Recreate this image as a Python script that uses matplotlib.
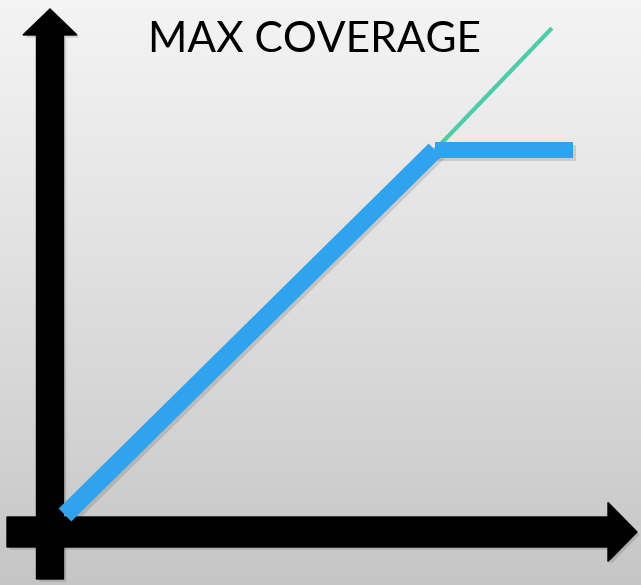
import numpy as np
import matplotlib.pyplot as plt
from matplotlib.patches import FancyArrow
import matplotlib.patheffects as pe

# demand vs. served coverage (normalised to the capacity knee)
demand = [0.0, 1.0, 1.373]
coverage = [0.0, 1.0, 1.0]
# unconstrained growth beyond the knee
ideal_x = [1.0, 1.316]
ideal_y = [1.0, 1.334]

title = "MAX COVERAGE"

W, H = 641, 585
fig = plt.figure(figsize=(W / 100, H / 100), dpi=100)

# soft grey background
bg = fig.add_axes([0, 0, 1, 1])
grad = np.linspace(0, 1, 256).reshape(-1, 1)
top = np.array([0.955, 0.955, 0.955])
bot = np.array([0.775, 0.775, 0.775])
img = top + (bot - top) * grad[..., None] ** 1.1
bg.imshow(img, aspect="auto", extent=[0, 1, 0, 1])
bg.set_axis_off()

# axes arrows, drawn in pixel units so widths are isotropic
deco = fig.add_axes([0, 0, 1, 1], facecolor="none")
deco.set_xlim(0, W)
deco.set_ylim(H, 0)
deco.set_axis_off()
shadow = [pe.SimplePatchShadow(offset=(2, -2), alpha=0.12), pe.Normal()]
va = FancyArrow(50, 579, 0, -570, width=27, head_width=54, head_length=26,
                length_includes_head=True, color="black", zorder=3)
ha = FancyArrow(7, 532, 630, 0, width=30, head_width=59, head_length=29,
                length_includes_head=True, color="black", zorder=3)
for a in (va, ha):
    a.set_path_effects(shadow)
    deco.add_patch(a)
deco.text(314, 52, title, ha="center", va="baseline", fontsize=30.5,
          family="Lato", color="black")

# data axes
ax = fig.add_axes([0, 0, 1, 1], facecolor="none")
ax.set_xlim(-65 / 370, (W - 65) / 370)
ax.set_ylim((515 - H) / 365, 515 / 365)
ax.set_axis_off()

lshadow = [pe.SimpleLineShadow(offset=(2, -2), alpha=0.12), pe.Normal()]
ax.plot(ideal_x, ideal_y, color="#4dcca6", lw=3, solid_capstyle="butt",
        zorder=4)
ax.plot(demand[:2], coverage[:2], color="#2fa3ee", lw=13,
        solid_capstyle="butt", path_effects=lshadow, zorder=5)
ax.plot(demand[1:], coverage[1:], color="#2fa3ee", lw=11.5,
        solid_capstyle="butt", path_effects=lshadow, zorder=5)

fig.savefig("out.png", dpi=100)
